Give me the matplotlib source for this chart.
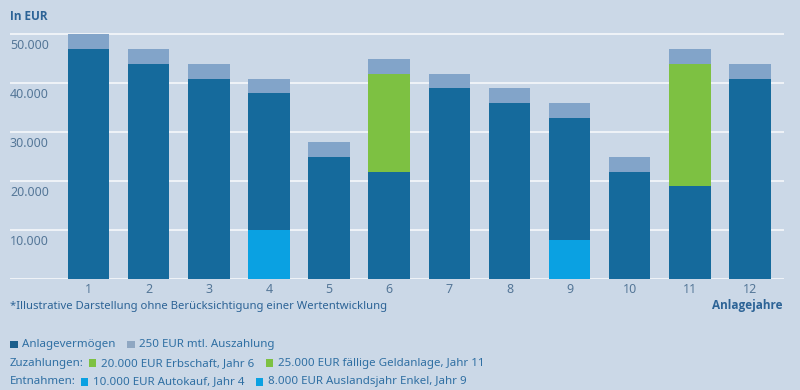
import matplotlib
matplotlib.use("Agg")
import matplotlib.pyplot as plt
import matplotlib.transforms as mtransforms
from matplotlib.offsetbox import TextArea, DrawingArea, HPacker, VPacker, AnchoredOffsetbox
from matplotlib.patches import Rectangle

plt.rcParams['font.family'] = ['Noto Sans', 'DejaVu Sans']

# data (EUR)
years = ['1', '2', '3', '4', '5', '6', '7', '8', '9', '10', '11', '12']
entnahme = [0, 0, 0, 10000, 0, 0, 0, 0, 8000, 0, 0, 0]
anlage = [47000, 44000, 41000, 28000, 25000, 22000, 39000, 36000, 25000, 22000, 19000, 41000]
zuzahlung = [0, 0, 0, 0, 0, 20000, 0, 0, 0, 0, 25000, 0]
auszahlung = [3000] * 12
yticks = [10000, 20000, 30000, 40000, 50000]

BG = '#cbd8e7'
DARK = '#156a9c'
LIGHT = '#82a4c9'
GREEN = '#7dc142'
CYAN = '#0aa1e2'
TXT = '#557798'
NAVY = '#2c6396'

fig = plt.figure(figsize=(8, 3.9), dpi=100, facecolor=BG)
ax = fig.add_axes([10 / 800, 0.2838, 774 / 800, 0.653])
ax.set_facecolor(BG)

x = list(range(len(years)))
w = 0.69
b1 = entnahme
b2 = [a + b for a, b in zip(b1, anlage)]
b3 = [a + b for a, b in zip(b2, zuzahlung)]
ax.bar(x, entnahme, w, color=CYAN, zorder=3)
ax.bar(x, anlage, w, bottom=b1, color=DARK, zorder=3)
ax.bar(x, zuzahlung, w, bottom=b2, color=GREEN, zorder=3)
ax.bar(x, auszahlung, w, bottom=b3, color=LIGHT, zorder=3)

ax.set_xlim(-1.306, 11.566)
ax.set_ylim(0, 52000)
for v in [0] + yticks:
    ax.axhline(v, color='white', lw=1.3, alpha=0.75, zorder=1)
ax.set_yticks([])
ax.set_xticks(x)
ax.set_xticklabels(years, color=TXT, fontsize=9)
ax.tick_params(axis='x', length=0, pad=3)
for s in ax.spines.values():
    s.set_visible(False)

trans = mtransforms.blended_transform_factory(ax.transAxes, ax.transData)
for v in yticks:
    ax.text(0, v - 900, f'{v:,}'.replace(',', '.'), transform=trans,
            ha='left', va='top', color=TXT, fontsize=9)

fig.text(10 / 800, 1 - 17 / 390, 'In EUR', fontsize=8.5, fontweight='bold',
         family=['Open Sans', 'DejaVu Sans'], color=NAVY, va='center', ha='left')
fig.text(10 / 800, 1 - 307 / 390,
         '*Illustrative Darstellung ohne Berücksichtigung einer Wertentwicklung',
         fontsize=8.1, color=NAVY, va='center', ha='left')
fig.text(783 / 800, 1 - 306 / 390, 'Anlagejahre', fontsize=8.5, fontweight='bold',
         family=['Open Sans', 'DejaVu Sans'], color=NAVY, va='center', ha='right')

# legend built from offset boxes
tp = dict(fontsize=8.3, color='#2f6fa3')


def square(c):
    da = DrawingArea(5.5, 5.5, 0, 0)
    da.add_artist(Rectangle((0, 0), 5.5, 5.5, fc=c, ec='none'))
    return da


def item(c, label):
    return HPacker(children=[square(c), TextArea(label, textprops=tp)],
                   align='center', pad=0, sep=3.5)


def line(prefix, entries):
    kids = []
    if prefix:
        kids.append(TextArea(prefix, textprops=tp))
    head = HPacker(children=kids + [item(*entries[0])], align='center', pad=0, sep=3.5)
    rest = [item(*e) for e in entries[1:]]
    return HPacker(children=[head] + rest, align='center', pad=0, sep=8)


lines = [
    line(None, [('#1c5f8c', 'Anlagevermögen'), ('#8fa7c2', '250 EUR mtl. Auszahlung')]),
    line('Zuzahlungen:', [(GREEN, '20.000 EUR Erbschaft, Jahr 6'),
                          (GREEN, '25.000 EUR fällige Geldanlage, Jahr 11')]),
    line('Entnahmen:', [(CYAN, '10.000 EUR Autokauf, Jahr 4'),
                        (CYAN, '8.000 EUR Auslandsjahr Enkel, Jahr 9')]),
]
box = VPacker(children=lines, align='left', pad=0, sep=5.5)
anch = AnchoredOffsetbox(loc='upper left', child=box, pad=0, borderpad=0, frameon=False,
                         bbox_to_anchor=(10 / 800, 1 - 339 / 390),
                         bbox_transform=fig.transFigure)
fig.add_artist(anch)

fig.savefig('out.png', dpi=100, facecolor=BG)
